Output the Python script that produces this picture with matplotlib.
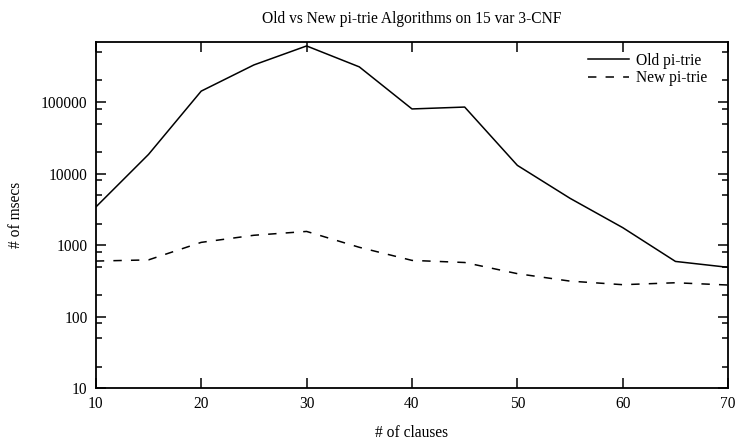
import matplotlib
matplotlib.use("Agg")
import matplotlib.pyplot as plt
from matplotlib.ticker import LogLocator, FixedLocator, FuncFormatter, NullFormatter

plt.rcParams['font.family'] = ['Liberation Serif', 'DejaVu Serif']

clauses = [10, 15, 20, 25, 30, 35, 40, 45, 50, 55, 60, 65, 70]
old_trie = [3400, 18500, 142000, 330000, 608000, 310000, 80000, 85000, 13000, 4500, 1750, 590, 488]
new_trie = [597, 620, 1090, 1370, 1550, 930, 610, 570, 398, 313, 279, 297, 276]

fig = plt.figure(figsize=(7.37, 4.40), dpi=100)
ax = fig.add_axes([0.130, 0.118, 0.858, 0.7865])

ax.plot(clauses, old_trie, color='black', lw=1.1, label='Old pi-trie')
ax.plot(clauses, new_trie, color='black', lw=1.1, dashes=(5.5, 6), label='New pi-trie')

ax.set_yscale('log')
ax.set_xlim(10, 70)
ax.set_ylim(10, 6.9e5)

ax.xaxis.set_major_locator(FixedLocator([10, 20, 30, 40, 50, 60, 70]))
ax.yaxis.set_major_locator(LogLocator(base=10, numticks=10))
ax.yaxis.set_minor_locator(LogLocator(base=10, subs=(2, 5, 8), numticks=10))
ax.yaxis.set_major_formatter(FuncFormatter(lambda v, p: '%d' % round(v)))
ax.yaxis.set_minor_formatter(NullFormatter())

ax.tick_params(which='both', direction='in', top=True, right=True, labelsize=11.2, width=1.1)
ax.tick_params(which='major', length=7, pad=6)
ax.tick_params(which='minor', length=4)
for s in ax.spines.values():
    s.set_linewidth(1.3)

ax.set_title('Old vs New pi-trie Algorithms on 15 var 3-CNF', fontsize=11.2, pad=14)
ax.set_xlabel('# of clauses', fontsize=11.2, labelpad=9)
ax.set_ylabel('# of msecs', fontsize=11.2, labelpad=12)

ax.legend(loc='upper right', bbox_to_anchor=(0.984, 1.0), frameon=False, fontsize=11.2,
          handlelength=2.6, borderaxespad=0.3, labelspacing=0.1, handletextpad=0.45)

fig.savefig('out.png', dpi=100)
